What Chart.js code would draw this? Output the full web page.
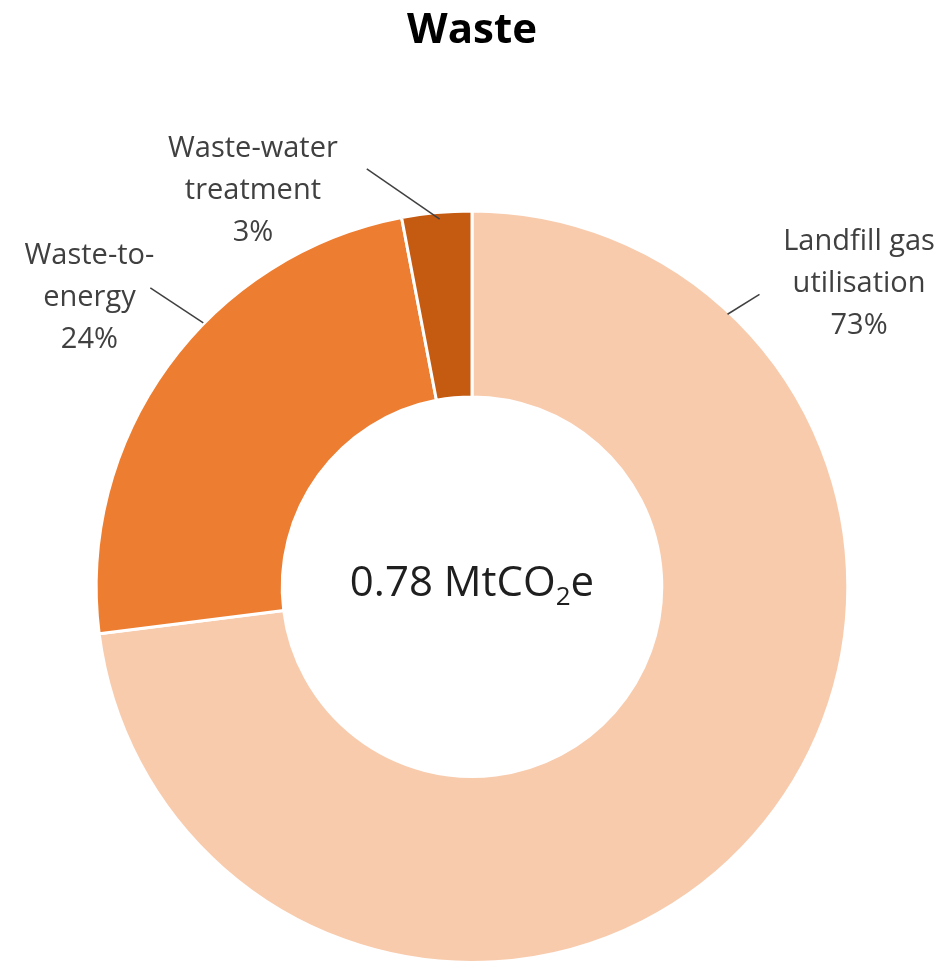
<!DOCTYPE html>
<html>
<head>
<meta charset="utf-8">
<script src="https://cdn.jsdelivr.net/npm/chart.js@4"></script>
<style>
  html, body { margin: 0; padding: 0; background: #fff; }
  #wrap { width: 944px; height: 964px; }
</style>
</head>
<body>
<div id="wrap"><canvas id="wasteChart"></canvas></div>
<script>
const categories = ["Landfill gas utilisation", "Waste-to-energy", "Waste-water treatment"];
const shares = [73, 24, 3];
const labelLines = [["Landfill gas", "utilisation"], ["Waste-to-", "energy"], ["Waste-water", "treatment"]];
const totalValue = 0.78;
const sliceColors = ["#F8CBAD", "#ED7D31", "#C55A11"];

// callout placement, in units of the outer radius from the ring centre
const callouts = [
    { from: [0.680, -0.725], to: [0.765, -0.778], text: [1.030, -0.806] },
    { from: [-0.715, -0.702], to: [-0.856, -0.795], text: [-1.018, -0.769] },
    { from: [-0.086, -0.978], to: [-0.280, -1.112], text: [-0.583, -1.053] },
];

const FONT = "'Open Sans', sans-serif";

const calloutPlugin = {
    id: "callouts",
    afterDraw(chart) {
        const ctx = chart.ctx;
        const arc = chart.getDatasetMeta(0).data[0];
        const cx = arc.x, cy = arc.y, R = arc.outerRadius;
        ctx.save();
        callouts.forEach((c, i) => {
            ctx.strokeStyle = "#404040";
            ctx.lineWidth = 1.5;
            ctx.beginPath();
            ctx.moveTo(cx + c.from[0] * R, cy + c.from[1] * R);
            ctx.lineTo(cx + c.to[0] * R, cy + c.to[1] * R);
            ctx.stroke();

            const lines = labelLines[i].concat([shares[i] + "%"]);
            const tx = cx + c.text[0] * R, ty = cy + c.text[1] * R;
            const lh = 42;
            ctx.fillStyle = "#404040";
            ctx.font = "29px " + FONT;
            ctx.textAlign = "center";
            ctx.textBaseline = "middle";
            lines.forEach((ln, k) => {
                ctx.fillText(ln, tx, ty + (k - (lines.length - 1) / 2) * lh);
            });
        });

        // total in the hole: 0.78 MtCO₂e with a lowered 2
        const big = "42px " + FONT, small = "26px " + FONT;
        const partA = totalValue.toFixed(2) + " MtCO", partB = "2", partC = "e";
        ctx.font = big;
        const wA = ctx.measureText(partA).width, wC = ctx.measureText(partC).width;
        ctx.font = small;
        const wB = ctx.measureText(partB).width;
        let x = cx - (wA + wB + wC) / 2;
        const base = cy + 9;
        ctx.fillStyle = "#1f1f1f";
        ctx.textAlign = "left";
        ctx.textBaseline = "alphabetic";
        ctx.font = big;
        ctx.fillText(partA, x, base);
        x += wA;
        ctx.font = small;
        ctx.fillText(partB, x, base + 9);
        x += wB;
        ctx.font = big;
        ctx.fillText(partC, x, base);
        ctx.restore();
    },
};

new Chart(document.getElementById("wasteChart").getContext("2d"), {
    type: "doughnut",
    data: {
        labels: categories,
        datasets: [
            {
                data: shares,
                backgroundColor: sliceColors,
                borderColor: "#ffffff",
                borderWidth: 3,
            },
        ],
    },
    options: {
        responsive: true,
        maintainAspectRatio: false,
        animation: false,
        cutout: "50.5%",
        layout: { padding: { top: 0, bottom: 0, left: 0, right: 0 } },
        plugins: {
            legend: { display: false },
            tooltip: { enabled: false },
            title: {
                display: true,
                text: "Waste",
                color: "#000000",
                font: { family: FONT, size: 42, weight: "bold", lineHeight: 1.2 },
                padding: { top: 6, bottom: 153 },
            },
        },
    },
    plugins: [calloutPlugin],
});
</script>
</body>
</html>
